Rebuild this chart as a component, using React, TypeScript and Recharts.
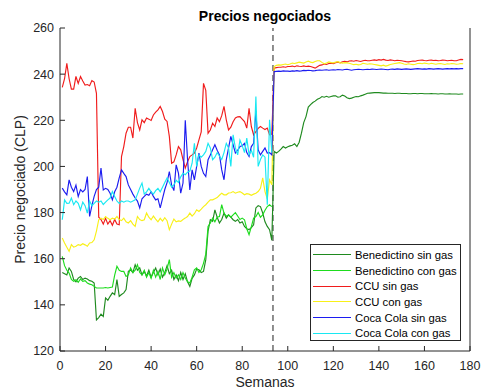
import { LineChart, Line, XAxis, YAxis, ReferenceLine, Legend } from 'recharts';

const FONT = '"Liberation Sans", Arial, Helvetica, sans-serif';
const AXIS_COLOR = '#262626';

const weeks = Array.from({ length: 177 }, (_, i) => i + 1);
const xTicks = [0, 20, 40, 60, 80, 100, 120, 140, 160, 180];
const yTicks = [120, 140, 160, 180, 200, 220, 240, 260];
const cutWeek = 93.5;

// Benedictino sin gas
const benSinPre = [
  154, 153.5, 153, 156, 154.5, 151, 150, 151.6, 152.3, 151,
  151.6, 151.2, 150.5, 150.2, 149.5, 133.5, 134.5, 136, 135, 143,
  142, 143.7, 145.2, 144.4, 151, 143.7, 144.5, 145.2, 146.6, 154.5,
  155.2, 154, 157.4, 155, 156, 153, 154.5, 152.5, 155, 152,
  154, 156, 153, 155.5, 152, 154, 157, 153.5, 155, 151,
  153, 150.5, 154, 151, 153.5, 150, 148, 151.5, 153, 155.5,
  155.2, 154, 154.5, 159.6, 172, 176.9, 176.2, 181.2, 178, 175.5,
  177, 179.8, 177.6, 179, 178, 176.9, 176.2, 177, 175.5, 176,
  174, 173, 172.6, 173.5, 174.7, 182, 183, 182.6, 179.8, 176,
  174, 172.6, 168,
];
const benSinPost = [
  206.5, 205.8, 206.5, 207.5, 208.6, 208, 208.5, 208.9, 209.2, 209.8,
  208.6, 210.5, 214.4, 219, 221.6, 225.7, 226.8, 227.7, 228.3, 229.1,
  229.5, 230.3, 230, 230.4, 230, 230.3, 230.6, 230.6, 230, 230.2,
  230.9, 230.5, 229.8, 229.4, 229.6, 230, 230.3, 230.2, 230.6, 230.9,
  231.3, 231.7, 231.8, 231.9, 232, 232, 232, 231.9, 231.8, 231.8,
  231.7, 231.7, 231.7, 231.6, 231.7, 231.7, 231.6, 231.6, 231.6, 231.5,
  231.5, 231.6, 231.6, 231.5, 231.6, 231.6, 231.5, 231.5, 231.5, 231.6,
  231.5, 231.5, 231.4, 231.5, 231.5, 231.4, 231.4, 231.5, 231.4, 231.4,
  231.4, 231.3, 231.4, 231.4,
];

// Benedictino con gas
const benConPre = [
  161, 157, 155, 153.8, 151, 150.2, 150.9, 149.8, 151.2, 150.2,
  150.5, 149.5, 149, 148.7, 148, 147.3, 147.3, 147.3, 147.3, 147.5,
  147.3, 147.5, 147.7, 152.9, 156.7, 155, 154.5, 154.5, 152.3, 153,
  156, 154, 155, 157.4, 154, 153, 155, 152, 154, 151.5,
  155, 152, 154.5, 151, 156, 153, 155.5, 159.6, 152, 154,
  151.6, 153, 151, 154, 151.6, 150, 149.5, 152, 155.2, 156,
  154, 155.2, 158, 162, 174, 175.5, 177.6, 176, 178, 178.3,
  183.4, 179.8, 178.4, 179, 178, 179, 180, 178.5, 177, 177.6,
  176.9, 173, 170.4, 173.9, 177.6, 178.3, 180, 178, 179, 181,
  182.6, 183.4, 182.6,
];

// CCU sin gas
const ccuSinPre = [
  234.3, 238, 244.7, 238, 233.5, 233.5, 239, 236, 239, 237,
  235.3, 235.5, 235, 237.2, 236.6, 231.7, 178, 177, 175, 177.5,
  175, 176.5, 174.5, 177, 175, 174.7, 204.3, 208.6, 214.4, 217,
  217, 212.3, 225.2, 219, 215.8, 220.2, 219, 221, 220.5, 219.9,
  222.3, 223.5, 224.5, 226, 223.8, 220.5, 219.5, 213, 201.4, 202,
  205, 208.6, 207.2, 203, 199.3, 202, 204.3, 205, 205.8, 208,
  211.5, 215, 236, 233, 214.4, 215.8, 218.7, 217.3, 221, 219.4,
  222, 226, 220.2, 215.8, 217, 219.4, 221, 221.5, 221.6, 220.5,
  219.4, 216.6, 225.2, 217.3, 213.7, 215.1, 216.5, 217.3, 216.6, 216,
  216.6, 213.7, 214,
];
const ccuSinPost = [
  242.6, 242.8, 243, 243, 243.2, 243, 243.3, 243.3, 243.5, 243.2,
  243.6, 243.4, 243.3, 243.6, 243.3, 243.5, 243.3, 243, 242.6, 243.2,
  243.8, 244, 244.4, 244.2, 244.6, 244.8, 244.6, 245, 245.2, 244.9,
  245.4, 245.6, 245.3, 245.7, 245.8, 245.6, 245.9, 245.7, 245.5, 245.8,
  246, 245.8, 245.8, 246, 246.2, 246, 246.3, 246.1, 246.4, 246.1,
  245.9, 246.2, 246, 245.8, 246, 245.9, 245.8, 245.6, 245.4, 245.3,
  245.5, 245.7, 245.6, 245.9, 246, 246.1, 245.9, 245.8, 246, 246.1,
  245.9, 246, 245.8, 245.9, 246.1, 246, 245.8, 245.9, 246, 245.8,
  245.8, 246.1, 246.4, 246.3,
];

// CCU con gas
const ccuConPre = [
  169, 166.8, 165, 163.2, 166.1, 165, 165.4, 166.1, 165.8, 166.5,
  166, 165.4, 166.8, 167, 168.2, 172, 176.9, 177.6, 177, 178.3,
  177.5, 176.9, 177.6, 177.2, 178.3, 177, 176.5, 177.6, 176, 175.5,
  176.5, 175, 174, 178.3, 177, 176.5, 176.9, 179.8, 178, 176.9,
  178.5, 177.2, 176, 177.5, 176.3, 177.8, 176.5, 172.6, 175, 177.2,
  176, 176.4, 176.2, 177, 177.6, 178.3, 179.8, 178.5, 179.5, 181.2,
  180.5, 181.5, 182.6, 183.4, 184.5, 185.5, 185.5, 186, 186.5, 187.5,
  188.4, 187.7, 187.7, 188.5, 188.6, 189.1, 188.4, 188.8, 189.1, 188.5,
  187.7, 188.2, 188, 187.5, 188, 188.4, 189.1, 190.5, 195, 189.1,
  186, 194.2, 192,
];
const ccuConPost = [
  243.3, 243.8, 244, 243.9, 244.2, 244.4, 244.1, 244.4, 244.8, 244.6,
  244.9, 245.2, 245, 244.8, 245.3, 245.6, 245.2, 245, 245.5, 245.8,
  245.8, 245.1, 244.5, 244.8, 245.3, 245, 244.9, 245.2, 245.4, 245,
  244.8, 245, 244.9, 244.7, 244.4, 244.1, 244.3, 244, 244.2, 244.7,
  244.5, 244.3, 244.5, 244.4, 244.2, 244, 243.8, 243.6, 243.9, 243.5,
  243.8, 244.2, 244.4, 244.6, 244.8, 245, 244.7, 244.4, 244.2, 244.5,
  244.3, 244.1, 244.3, 244.6, 244.7, 244.5, 244.8, 244.6, 244.4, 244.7,
  244.5, 244.3, 244.5, 244.6, 244.4, 244.2, 244.5, 244.4, 244.6, 244.5,
  244.3, 244.4, 244.6, 244.5,
];

// Coca Cola sin gas
const cocaSinPre = [
  190.6, 189, 187.7, 194.2, 191, 189.1, 191.9, 187, 190, 189,
  190, 195.6, 178.3, 183, 187, 190, 191, 199.3, 189.8, 190.5,
  190, 188.4, 185.5, 189, 191, 195, 198.5, 197, 195.6, 192,
  190, 188, 186.3, 185, 182, 186, 187, 188, 187.5, 189,
  187, 185.5, 186, 182, 186, 190, 193, 197.8, 192, 189.5,
  200.7, 197.1, 188.4, 192.8, 220, 202.9, 189.8, 198.5, 194.2, 200,
  205.8, 200, 197, 195.6, 202.9, 205, 207.2, 209.4, 207, 205,
  198.5, 194.2, 202.9, 208, 213, 209.4, 205.8, 207, 208.6, 209,
  210, 206, 204.3, 208.6, 210, 224, 207.2, 205, 206.5, 208,
  205.8, 206, 205,
];
const cocaSinPost = [
  241.1, 241.2, 241.3, 241.2, 241.4, 241.3, 241.3, 241.2, 241.4, 241.3,
  241.5, 241.3, 241.4, 241.6, 241.5, 241.7, 241.6, 241.4, 241.5, 241.7,
  241.8, 241.7, 241.8, 241.9, 241.7, 241.8, 241.9, 241.8, 242, 241.9,
  241.8, 242, 242.1, 241.9, 241.7, 241.9, 242, 242.1, 242, 241.9,
  242, 242.1, 242, 242.2, 242.1, 242, 242.1, 242.2, 242.1, 242,
  241.9, 242.1, 242.2, 242.1, 242.3, 242.2, 242.1, 242.2, 242.3, 242.2,
  242.1, 242.2, 242.3, 242.4, 242.3, 242.2, 242.3, 242.2, 242.4, 242.3,
  242.2, 242.3, 242.4, 242.3, 242.2, 242.3, 242.4, 242.3, 242.4, 242.3,
  242.4, 242.3, 242.4, 242.4,
];

// Coca Cola con gas
const cocaConPre = [
  176.9, 185.5, 184, 184.1, 186.3, 183.4, 185, 184, 181.2, 184.5,
  183, 179.8, 185, 183, 184, 185, 184.5, 185, 183.5, 184.5,
  185.5, 186.3, 189.1, 187, 185, 184, 185, 184.5, 185, 185,
  184.5, 185, 185.5, 188, 190.6, 192.8, 188, 189, 190.5, 189,
  188, 189.5, 190.5, 189, 191, 193, 195, 193, 191, 192,
  194, 193, 195.5, 197, 196.4, 197.5, 198, 201.4, 210, 200,
  205, 204, 205, 206.5, 210, 208, 202.9, 204, 206, 204.5,
  203, 206, 210, 208, 200, 213.7, 208, 205, 211.4, 209,
  206, 212.3, 205, 207, 204, 230.3, 200, 203, 205, 204,
  183.4, 220.2, 206,
];

const series = [
  { key: 'benSin', name: 'Benedictino sin gas', color: '#1f8a1f', pre: benSinPre, post: benSinPost },
  { key: 'benCon', name: 'Benedictino con gas', color: '#1edc1e', pre: benConPre, post: null },
  { key: 'ccuSin', name: 'CCU sin gas', color: '#f01c1c', pre: ccuSinPre, post: ccuSinPost },
  { key: 'ccuCon', name: 'CCU con gas', color: '#f8f018', pre: ccuConPre, post: ccuConPost },
  { key: 'cocaSin', name: 'Coca Cola sin gas', color: '#1c1cf0', pre: cocaSinPre, post: cocaSinPost },
  { key: 'cocaCon', name: 'Coca Cola con gas', color: '#18e8f2', pre: cocaConPre, post: null },
];

function valueAt(pre: number[], post: number[] | null, w: number) {
  if (w <= pre.length) return pre[w - 1];
  if (!post) return null;
  const v = post[w - pre.length - 1];
  return v === undefined ? null : v;
}

const data = weeks.map((w) => {
  const row: Record<string, number | null> = { semana: w };
  series.forEach((s) => {
    row[s.key] = valueAt(s.pre, s.post, w);
  });
  return row;
});

const tickStyle = { fill: AXIS_COLOR, fontSize: 12.5, fontFamily: FONT };

const renderLegend = () => (
  <div
    style={{
      width: 151,
      height: 97,
      boxSizing: 'border-box',
      border: `1px solid ${AXIS_COLOR}`,
      background: '#fff',
      paddingTop: 2,
      paddingLeft: 2,
      fontFamily: FONT,
      fontSize: 11.3,
      color: '#000',
    }}
  >
    {series.map((s) => (
      <div key={s.key} style={{ display: 'flex', alignItems: 'center', height: 15.7 }}>
        <span style={{ display: 'inline-block', width: 38, borderTop: `1px solid ${s.color}`, marginRight: 4 }} />
        <span style={{ whiteSpace: 'nowrap' }}>{s.name}</span>
      </div>
    ))}
  </div>
);

export default function App() {
  // pinned to the window corner so the full 482x392 frame is visible
  return (
    <div
      style={{
        position: 'fixed',
        left: 0,
        top: 0,
        width: 482,
        height: 392,
        overflow: 'hidden',
        background: '#fff',
        fontFamily: FONT,
      }}
    >
      <div
        style={{
          position: 'absolute',
          top: 9,
          left: 60,
          width: 410,
          textAlign: 'center',
          fontSize: 14,
          lineHeight: '14px',
          fontWeight: 'bold',
          color: '#000',
          zIndex: 1,
        }}
      >
        Precios negociados
      </div>
      <LineChart width={482} height={392} data={data} margin={{ top: 28, right: 11, bottom: 0, left: 0 }}>
        <XAxis
          dataKey="semana"
          type="number"
          domain={[0, 180]}
          ticks={xTicks}
          interval={0}
          height={41}
          stroke={AXIS_COLOR}
          tick={tickStyle}
          tickSize={-5}
          tickMargin={15}
          label={{ value: 'Semanas', position: 'insideBottom', offset: 5, fill: AXIS_COLOR, fontSize: 14, fontFamily: FONT }}
        />
        <XAxis
          xAxisId="top"
          orientation="top"
          dataKey="semana"
          type="number"
          domain={[0, 180]}
          ticks={xTicks}
          interval={0}
          height={0}
          stroke={AXIS_COLOR}
          tick={false}
          tickSize={-5}
        />
        <YAxis
          type="number"
          domain={[120, 260]}
          ticks={yTicks}
          interval={0}
          width={60}
          stroke={AXIS_COLOR}
          tick={tickStyle}
          tickSize={-5}
          tickMargin={11}
          label={{
            value: 'Precio negociado (CLP)',
            angle: -90,
            position: 'insideLeft',
            offset: 20.5,
            fill: AXIS_COLOR,
            fontSize: 14,
            fontFamily: FONT,
            style: { textAnchor: 'middle' },
          }}
        />
        <YAxis
          yAxisId="right"
          orientation="right"
          type="number"
          domain={[120, 260]}
          ticks={yTicks}
          interval={0}
          width={1}
          stroke={AXIS_COLOR}
          tick={false}
          tickSize={-5}
        />
        <ReferenceLine x={cutWeek} stroke="#6a6a6a" strokeWidth={1.5} strokeDasharray="6 4" />
        {series.map((s) => (
          <Line
            key={s.key}
            type="linear"
            dataKey={s.key}
            name={s.name}
            stroke={s.color}
            strokeWidth={1.15}
            dot={false}
            activeDot={false}
            isAnimationActive={false}
          />
        ))}
        <Legend
          layout="vertical"
          align="center"
          verticalAlign="middle"
          content={renderLegend}
          wrapperStyle={{ left: 310, top: 244, width: 151, height: 97 }}
        />
      </LineChart>
    </div>
  );
}
